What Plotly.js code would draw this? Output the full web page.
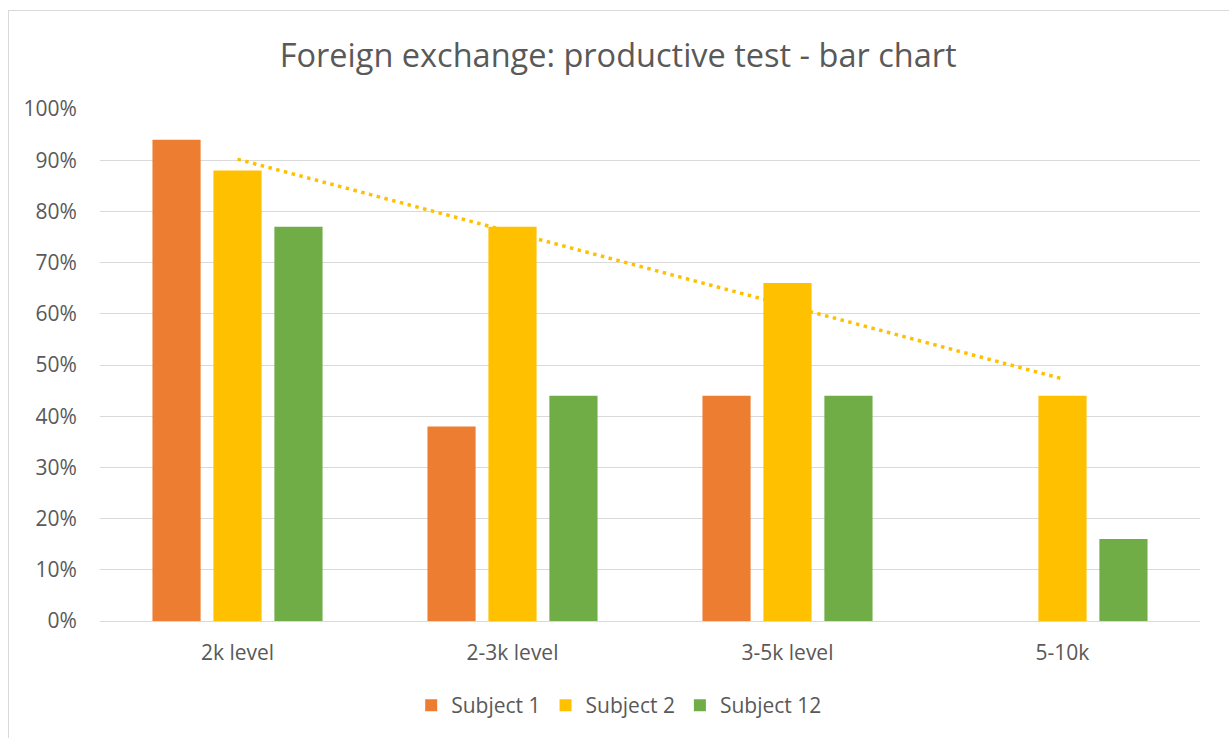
<!DOCTYPE html>
<html><head><meta charset="utf-8">
<script src="https://cdn.plot.ly/plotly-3.0.1.min.js"></script>
<style>
html,body{margin:0;padding:0;background:#fff;}
#wrap{position:relative;width:1229px;height:738px;}
#chart{width:1229px;height:738px;}
#frame{position:absolute;left:8px;top:10px;width:1229px;height:740px;border-left:1px solid #d9d9d9;border-top:1px solid #d9d9d9;pointer-events:none;}
</style></head>
<body><div id="wrap"><div id="chart"></div><div id="frame"></div></div>
<script>
const categories = ["2k level", "2-3k level", "3-5k level", "5-10k"];
const subject1 = [0.94, 0.38, 0.44, null];
const subject2 = [0.88, 0.77, 0.66, 0.44];
const subject12 = [0.77, 0.44, 0.44, 0.16];
const seriesNames = ["Subject 1", "Subject 2", "Subject 12"];
const colors = ["#ED7D31", "#FFC000", "#70AD47"];

// Linear trendline of Subject 2 (least squares), as in the original spreadsheet chart
const xs = subject2.map((_, i) => i + 1);
const n = xs.length;
const mx = xs.reduce((a, b) => a + b, 0) / n;
const my = subject2.reduce((a, b) => a + b, 0) / n;
let sxy = 0, sxx = 0;
for (let i = 0; i < n; i++) { sxy += (xs[i] - mx) * (subject2[i] - my); sxx += (xs[i] - mx) ** 2; }
const slope = sxy / sxx, intercept = my - slope * mx;
const trend = xs.map(x => intercept + slope * x);

const font = "'Open Sans', Lato, sans-serif";
const traces = [subject1, subject2, subject12].map((vals, i) => ({
  type: "bar", x: categories, y: vals, name: seriesNames[i],
  marker: {color: colors[i]}, hoverinfo: "skip"
}));
traces.push({
  type: "scatter", mode: "lines", x: categories, y: trend, showlegend: false,
  line: {color: "#FFC000", width: 3.5, dash: "3.5px,4.5px"}, hoverinfo: "skip"
});

const layout = {
  width: 1229, height: 738,
  margin: {l: 100, r: 29, t: 109, b: 117},
  paper_bgcolor: "#fff", plot_bgcolor: "#fff",
  title: {text: "Foreign exchange: productive test - bar chart", x: 0.503, xanchor: "center", y: 0.925, yanchor: "middle",
          font: {family: font, size: 32.5, color: "#595959"}},
  barmode: "group", bargap: 0.335, bargroupgap: 0.21,
  xaxis: {type: "category", showgrid: false, showline: true, linecolor: "#d9d9d9", linewidth: 1,
          ticks: "outside", ticklen: 13, tickcolor: "rgba(0,0,0,0)",
          tickfont: {family: font, size: 21, color: "#595959"}, fixedrange: true},
  yaxis: {range: [0, 1], dtick: 0.1, tickformat: ".0%", showgrid: true, gridcolor: "#d9d9d9", gridwidth: 1,
          zeroline: false, showline: false, ticks: "outside", ticklen: 18, tickcolor: "rgba(0,0,0,0)",
          tickfont: {family: font, size: 21, color: "#595959"}, fixedrange: true},
  legend: {orientation: "h", x: 0.472, xanchor: "center", y: -0.165, yanchor: "middle",
           font: {family: font, size: 21, color: "#595959"}, itemwidth: 30, traceorder: "normal"},
  showlegend: true
};
Plotly.newPlot("chart", traces, layout, {displayModeBar: false, staticPlot: true});
</script></body></html>
